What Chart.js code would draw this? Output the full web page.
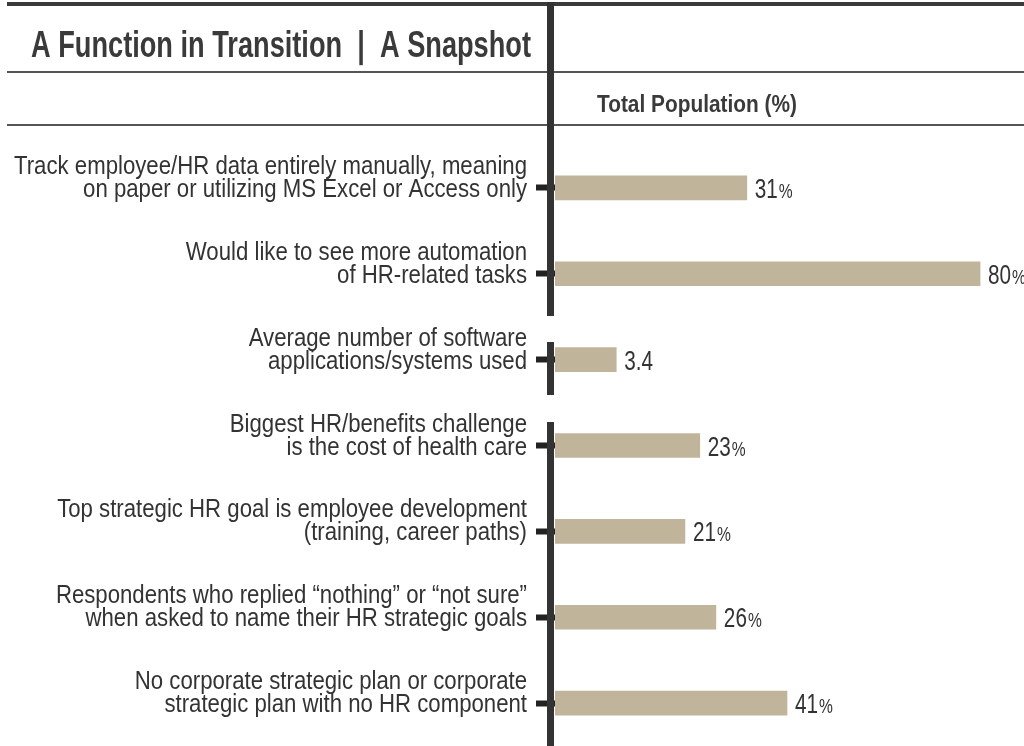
<!DOCTYPE html>
<html>
<head>
<meta charset="utf-8">
<title>A Function in Transition | A Snapshot</title>
<script src="https://cdn.jsdelivr.net/npm/chart.js@4.4.0/dist/chart.umd.min.js"></script>
<style>
  html, body { margin: 0; padding: 0; background: #fff; }
  #wrap { width: 1024px; height: 746px; position: relative; }
</style>
</head>
<body>
<div id="wrap"><canvas id="myChart"></canvas></div>
<script>
'use strict';

const titleText = 'A Function in Transition  |  A Snapshot';
const columnHeader = 'Total Population (%)';

const categories = [
  ['Track employee/HR data entirely manually, meaning', 'on paper or utilizing MS Excel or Access only'],
  ['Would like to see more automation', 'of HR-related tasks'],
  ['Average number of software', 'applications/systems used'],
  ['Biggest HR/benefits challenge', 'is the cost of health care'],
  ['Top strategic HR goal is employee development', '(training, career paths)'],
  ['Respondents who replied \u201cnothing\u201d or \u201cnot sure\u201d', 'when asked to name their HR strategic goals'],
  ['No corporate strategic plan or corporate', 'strategic plan with no HR component']
];

// the numbers printed next to the bars
const shownValues = ['31', '80', '3.4', '23', '21', '26', '41'];
const valueUnits = ['%', '%', '', '%', '%', '%', '%'];
// bar lengths as drawn in the picture (they are not to the printed scale)
const barLengths = [31, 68.7, 9.9, 23.4, 21, 26, 37.5];

const fontFamily = "'Liberation Sans', Arial, sans-serif";
const textColor = '#333333';
let chartCanvas = document.getElementById('myChart');

// fills text squeezed sideways by factor k (the original face is a condensed one)
function squeezeText(ctx, text, x, y, k, align) {
  let w = ctx.measureText(text).width * k;
  ctx.save();
  ctx.translate(align === 'right' ? x - w : x, y);
  ctx.scale(k, 1);
  ctx.fillText(text, 0, 0);
  ctx.restore();
  return w;
}

// rules, title, column header and the thick axis line
const framePlugin = {
  id: 'frame',
  afterDraw(chart) {
    let ctx = chart.ctx;
    let axisRight = chart.chartArea.left;
    ctx.save();
    ctx.fillStyle = '#3a3a3a';
    ctx.fillRect(7, 2, 1017, 4);
    ctx.fillStyle = '#555555';
    ctx.fillRect(7, 71, 1017, 2);
    ctx.fillRect(7, 124, 1017, 2);

    // axis line, broken around the "average number" row as in the original
    ctx.fillStyle = '#333333';
    ctx.fillRect(axisRight - 8, 2, 7, 314);
    ctx.fillRect(axisRight - 8, 342, 7, 53);
    ctx.fillRect(axisRight - 8, 422, 7, 324);

    ctx.fillStyle = '#3a3a3a';
    ctx.textBaseline = 'alphabetic';
    ctx.textAlign = 'left';
    ctx.font = 'bold 36px ' + fontFamily;
    squeezeText(ctx, titleText, 31, 57, 500 / ctx.measureText(titleText).width);
    ctx.font = 'bold 23px ' + fontFamily;
    squeezeText(ctx, columnHeader, 597, 112, 200 / ctx.measureText(columnHeader).width);
    ctx.restore();
  }
};

// two-line category names, right aligned left of the tick marks
const categoryLabelPlugin = {
  id: 'categoryLabels',
  afterDraw(chart) {
    let ctx = chart.ctx;
    let yScale = chart.scales.y;
    ctx.save();
    ctx.fillStyle = textColor;
    ctx.textBaseline = 'alphabetic';
    ctx.font = '25px ' + fontFamily;
    let k = 513 / ctx.measureText(categories[0][0]).width;
    for (let i = 0; i < categories.length; i++) {
      let y = yScale.getPixelForTick(i);
      squeezeText(ctx, categories[i][0], 527, y - 14, k, 'right');
      squeezeText(ctx, categories[i][1], 527, y + 9, k, 'right');
    }
    ctx.restore();
  }
};

const valueLabelPlugin = {
  id: 'valueLabels',
  afterDatasetsDraw(chart) {
    let ctx = chart.ctx;
    ctx.save();
    ctx.fillStyle = textColor;
    ctx.textBaseline = 'alphabetic';
    chart.getDatasetMeta(0).data.forEach(function(bar, i) {
      let x = bar.x + 8;
      ctx.font = '28px ' + fontFamily;
      x += squeezeText(ctx, shownValues[i], x, bar.y + 10, 0.74) + 1;
      ctx.font = '20px ' + fontFamily;
      squeezeText(ctx, valueUnits[i], x, bar.y + 10, 0.78);
    });
    ctx.restore();
  }
};

new Chart(chartCanvas, {
  type: 'bar',
  data: {
    labels: categories,
    datasets: [{
      label: columnHeader,
      data: barLengths,
      backgroundColor: '#c0b59b',
      barThickness: 24
    }]
  },
  options: {
    indexAxis: 'y',
    responsive: true,
    maintainAspectRatio: false,
    animation: false,
    layout: {
      padding: { top: 145, bottom: 0, left: 0, right: 0 }
    },
    plugins: {
      legend: { display: false },
      tooltip: { enabled: false }
    },
    scales: {
      x: {
        display: false,
        min: 0,
        max: 75.8
      },
      y: {
        afterFit: function(scale) {
          scale.width = 555;
        },
        border: { display: false },
        grid: {
          drawOnChartArea: false,
          drawTicks: true,
          offset: false,
          tickLength: 19,
          tickWidth: 6,
          tickColor: '#222222'
        },
        ticks: { display: false }
      }
    }
  },
  plugins: [framePlugin, categoryLabelPlugin, valueLabelPlugin]
});
</script>
</body>
</html>
